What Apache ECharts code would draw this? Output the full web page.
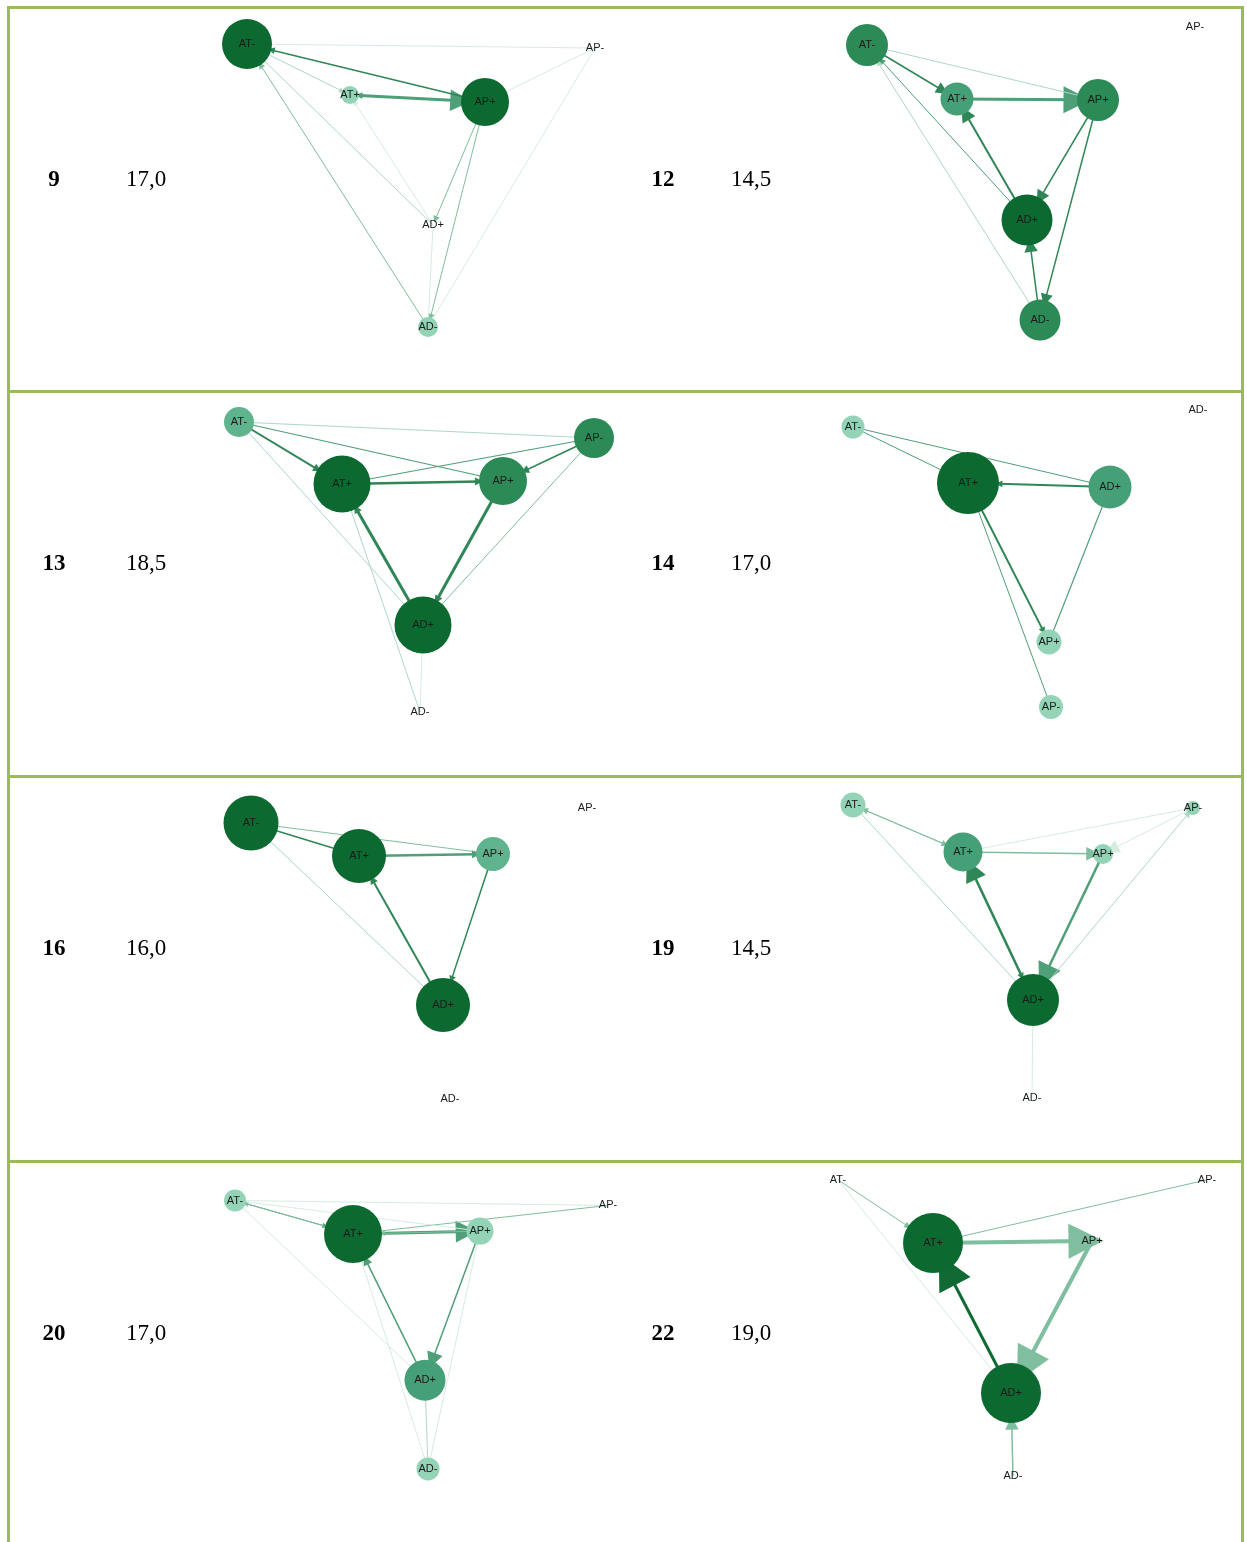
<!DOCTYPE html>
<html><head><meta charset="utf-8">
<script src="https://cdn.jsdelivr.net/npm/echarts@6/dist/echarts.min.js"></script>
<style>html,body{margin:0;padding:0;background:#fff}#c{width:1247px;height:1542px}</style>
</head><body><div id="c"></div><script>
// ---- data ----
const caseIds = ['9', '12', '13', '14', '16', '19', '20', '22'];
const scores = ['17,0', '14,5', '18,5', '17,0', '16,0', '14,5', '17,0', '19,0'];

// node: [name, x, y (panel units), diameter (0 = label only), shade level]
const nodes9  = [['AT-',47,36,50,4],['AP-',395,40,0,0],['AT+',150,87,18,0],['AP+',285,94,48,4],['AD+',233,217,0,0],['AD-',228,319,20,0]];
const nodes12 = [['AT-',47,37,42,3],['AP-',375,19,0,0],['AT+',137,91,33,2],['AP+',278,92,42,3],['AD+',207,212,51,4],['AD-',220,312,41,3]];
const nodes13 = [['AT-',39,30,30,1],['AP-',394,46,40,3],['AT+',142,92,57,4],['AP+',303,89,48,3],['AD+',223,233,57,4],['AD-',220,320,0,0]];
const nodes14 = [['AT-',33,35,23,0],['AD-',378,18,0,0],['AT+',148,91,62,4],['AD+',290,95,43,2],['AP+',229,250,25,0],['AP-',231,315,24,0]];
const nodes16 = [['AT-',51,46,55,4],['AP-',387,31,0,0],['AT+',159,79,54,4],['AP+',293,77,34,1],['AD+',243,228,54,4],['AD-',250,322,0,0]];
const nodes19 = [['AT-',33,28,25,0],['AP-',373,31,14,0],['AT+',143,75,39,2],['AP+',283,77,20,0],['AD+',213,223,52,4],['AD-',212,321,0,0]];
const nodes20 = [['AT-',35,39,22,0],['AP-',408,44,0,0],['AT+',153,73,58,4],['AP+',280,70,27,0],['AD+',225,221,41,2],['AD-',228,311,23,0]];
const nodes22 = [['AT-',18,18,0,0],['AP-',387,18,0,0],['AT+',113,82,60,4],['AP+',272,80,0,0],['AD+',191,234,60,4],['AD-',193,318,0,0]];

// link: [source, target, weight (line width), arrow weight (0 = none), edge shade]
const links9  = [['AT+','AP+',3,16,3],['AP+','AT+',1,5,3],['AP+','AT-',1.5,5,4],['AT-','AP-',1,0,0],['AT-','AT+',1,4,1],['AT-','AD+',1,0,1],['AD-','AT-',1,5,2],['AD+','AT+',1,4,0],['AP+','AD+',1,5,2],['AP+','AD-',1,5,2],['AP-','AP+',1,0,0],['AP-','AD-',1,0,0],['AD+','AD-',1,0,0]];
const links12 = [['AT-','AT+',1.5,9,4],['AT+','AP+',3,20,3],['AT-','AP+',1,0,1],['AD+','AT+',2,11,4],['AP+','AD+',1.5,10,4],['AP+','AD-',1.5,9,4],['AD-','AD+',1.5,10,4],['AD+','AT-',1,5,3],['AD-','AT-',1,4,1]];
const links13 = [['AT-','AT+',2,6,4],['AT-','AP+',1.2,0,3],['AT-','AP-',1,0,1],['AT+','AP+',2.5,6,4],['AT+','AP-',1.2,0,3],['AP-','AP+',1.5,6,4],['AP+','AD+',3,6,4],['AD+','AT+',3,6,4],['AP-','AD+',1,0,2],['AT-','AD+',1,0,1],['AT+','AD-',1,0,1],['AD+','AD-',1,0,0]];
const links14 = [['AD+','AT+',2,5,4],['AT-','AT+',1,0,3],['AT-','AD+',1,0,3],['AT+','AP+',2,5,4],['AT+','AP-',1,0,3],['AD+','AP+',1.2,0,3]];
const links16 = [['AT-','AT+',1.5,0,4],['AT-','AP+',1,0,2],['AT+','AP+',2.5,6,3],['AD+','AT+',2,6,4],['AP+','AD+',1.5,5,4],['AT-','AD+',1,0,1]];
const links19 = [['AT+','AT-',1,5,2],['AT-','AT+',1,5,2],['AT+','AP+',1.5,10,2],['AT+','AP-',1,0,0],['AP-','AP+',1,10,0],['AD+','AT+',2.5,16,4],['AT+','AD+',1,5,4],['AP+','AD+',2.5,18,3],['AD+','AP-',1,5,1],['AT-','AD+',1,0,1],['AD+','AD-',1,0,0]];
const links20 = [['AT-','AT+',1,4,3],['AT+','AT-',1,4,2],['AT-','AP-',1,0,0],['AT+','AP+',3,16,3],['AP+','AT+',1,4,2],['AP-','AT+',1,0,2],['AT-','AP+',1,0,0],['AD+','AT+',1.5,7,3],['AP+','AD+',1.5,12,3],['AD-','AT+',1,0,0],['AT-','AD+',1,0,0],['AD+','AD-',1,0,1],['AP+','AD-',1,0,0]];
const links22 = [['AT-','AT+',1,5,2],['AT-','AD+',1,0,0],['AT+','AP-',1,0,2],['AT+','AP+',4,26,2],['AP+','AD+',4,26,2],['AD+','AT+',3,26,5],['AD-','AD+',1.5,10,2]];

const allNodes = [nodes9, nodes12, nodes13, nodes14, nodes16, nodes19, nodes20, nodes22];
const allLinks = [links9, links12, links13, links14, links16, links19, links20, links22];

// ---- styling ----
const nodeShades = ['#93d4b7', '#5fb48e', '#46a077', '#2c8a57', '#0c6a30'];
const edgeShades = ['#d6ece0', '#aed8c3', '#7fbe9f', '#4f9f78', '#2f8656', '#0f6b33'];
const arrowScale = 1.35;
const colX = [200, 820];
const rowY = [8, 392, 777, 1162];
const PW = 420, PH = 385;
const borderColor = '#9bbb59';

const grids = [], xAxes = [], yAxes = [], series = [], graphics = [];
allNodes.forEach((nodes, i) => {
  const c = i % 2, r = Math.floor(i / 2);
  grids.push({left: colX[c], top: rowY[r], width: PW, height: PH, containLabel: false, show: false});
  xAxes.push({type: 'value', gridIndex: i, min: 0, max: PW, show: false});
  yAxes.push({type: 'value', gridIndex: i, min: 0, max: PH, inverse: true, show: false});
  series.push({
    type: 'graph', layout: 'none', coordinateSystem: 'cartesian2d',
    xAxisIndex: i, yAxisIndex: i, silent: true, animation: false,
    emphasis: {disabled: true},
    label: {show: true, position: 'inside', fontSize: 11, color: '#1a1a1a', fontFamily: 'Liberation Sans, Arial, sans-serif'},
    data: nodes.map(n => ({
      name: n[0], value: [n[1], n[2]],
      symbolSize: n[3] || 12,
      itemStyle: {color: n[3] ? nodeShades[n[4]] : 'rgba(255,255,255,0)', borderWidth: 0}
    })),
    links: allLinks[i].map(l => ({
      source: l[0], target: l[1],
      symbol: ['none', l[3] ? 'triangle' : 'none'],
      symbolSize: [0, l[3] ? l[3] * arrowScale : 1],
      lineStyle: {color: edgeShades[l[4]], width: l[2], curveness: 0, opacity: 1}
    }))
  });
  const cy = rowY[r] + 172;
  graphics.push({type: 'text', x: c ? 663 : 54, y: cy, style: {text: caseIds[i], font: 'bold 23px "Liberation Serif", serif', fill: '#000', textAlign: 'center', textVerticalAlign: 'middle'}});
  graphics.push({type: 'text', x: c ? 751 : 146, y: cy, style: {text: scores[i], font: '23px "Liberation Serif", serif', fill: '#000', textAlign: 'center', textVerticalAlign: 'middle'}});
});

rowY.forEach(y => graphics.push({type: 'line', shape: {x1: 7, y1: y - 0.5, x2: 1244, y2: y - 0.5}, style: {stroke: borderColor, lineWidth: 3}}));
graphics.push({type: 'line', shape: {x1: 8.5, y1: 6, x2: 8.5, y2: 1542}, style: {stroke: borderColor, lineWidth: 3}});
graphics.push({type: 'line', shape: {x1: 1242.5, y1: 6, x2: 1242.5, y2: 1542}, style: {stroke: borderColor, lineWidth: 3}});

const chart = echarts.init(document.getElementById('c'), null, {renderer: 'canvas'});
chart.setOption({
  animation: false, backgroundColor: '#fff',
  grid: grids, xAxis: xAxes, yAxis: yAxes, series: series, graphic: graphics
});
</script></body></html>
